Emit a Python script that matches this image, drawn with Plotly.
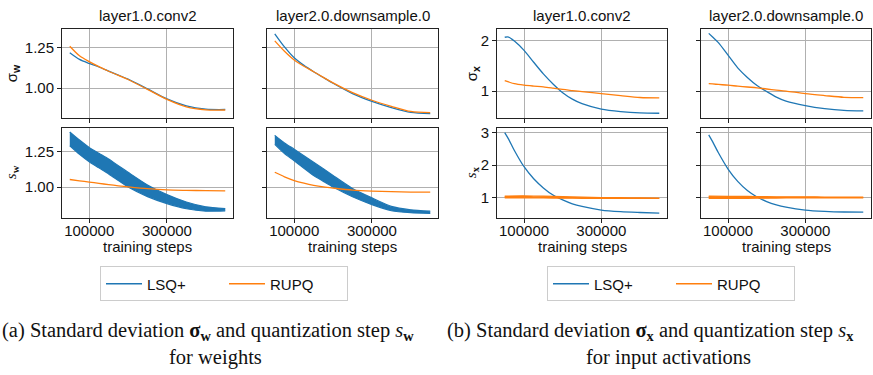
import plotly.graph_objects as go

W, H = 873, 375
BLUE = "#1f77b4"
ORANGE = "#ff7f0e"

# ---------------- data ----------------
steps_w = [50000, 75000, 100000, 125000, 150000, 175000, 200000, 250000, 300000, 350000, 400000, 450000]

# sigma_w, layer1.0.conv2
sigw_l1_lsq = [1.218, 1.177, 1.152, 1.130, 1.105, 1.080, 1.055, 0.995, 0.933, 0.890, 0.870, 0.868]
sigw_l1_rupq = [1.258, 1.199, 1.163, 1.132, 1.104, 1.079, 1.053, 0.992, 0.930, 0.884, 0.866, 0.865]
# sigma_w, layer2.0.downsample.0
sigw_l2_lsq = [1.335, 1.254, 1.187, 1.140, 1.101, 1.065, 1.030, 0.966, 0.918, 0.880, 0.850, 0.843]
sigw_l2_rupq = [1.291, 1.227, 1.173, 1.135, 1.101, 1.066, 1.032, 0.972, 0.925, 0.888, 0.856, 0.849]

# s_w, layer1.0.conv2 (LSQ+ is a noisy band: upper / lower envelope)
sw_l1_lsq_hi = [1.387, 1.330, 1.278, 1.237, 1.197, 1.150, 1.104, 1.015, 0.947, 0.895, 0.861, 0.849]
sw_l1_lsq_lo = [1.290, 1.230, 1.178, 1.135, 1.092, 1.046, 1.000, 0.933, 0.884, 0.848, 0.831, 0.833]
sw_l1_rupq = [1.053, 1.044, 1.035, 1.026, 1.017, 1.009, 1.002, 0.989, 0.980, 0.977, 0.975, 0.973]
# s_w, layer2.0.downsample.0
sw_l2_lsq_hi = [1.363, 1.310, 1.266, 1.220, 1.174, 1.128, 1.081, 0.990, 0.924, 0.864, 0.840, 0.831]
sw_l2_lsq_lo = [1.300, 1.235, 1.185, 1.132, 1.081, 1.040, 1.000, 0.932, 0.877, 0.834, 0.820, 0.815]
sw_l2_rupq = [1.104, 1.072, 1.046, 1.027, 1.012, 1.001, 0.993, 0.979, 0.972, 0.968, 0.965, 0.965]

steps_x = [50000, 60000, 75000, 100000, 125000, 150000, 175000, 200000, 225000, 250000, 300000, 350000, 400000, 450000]

# sigma_x, layer1.0.conv2
sigx_l1_lsq = [2.066, 2.070, 1.990, 1.806, 1.570, 1.340, 1.140, 0.967, 0.840, 0.750, 0.643, 0.593, 0.566, 0.560]
sigx_l1_rupq = [1.206, 1.180, 1.145, 1.116, 1.098, 1.083, 1.058, 1.031, 1.010, 0.990, 0.948, 0.908, 0.872, 0.864]
# sigma_x, layer2.0.downsample.0
sigx_l2_lsq = [2.143, 2.070, 1.960, 1.710, 1.460, 1.270, 1.110, 0.990, 0.880, 0.800, 0.710, 0.650, 0.615, 0.605]
sigx_l2_rupq = [1.147, 1.140, 1.130, 1.116, 1.097, 1.080, 1.063, 1.040, 1.020, 1.000, 0.948, 0.910, 0.876, 0.870]

# s_x, LSQ+
sx_l1_lsq = [3.000, 2.800, 2.450, 1.950, 1.580, 1.300, 1.080, 0.930, 0.810, 0.730, 0.620, 0.570, 0.545, 0.527]
sx_l2_lsq = [2.930, 2.720, 2.380, 1.880, 1.500, 1.220, 1.020, 0.880, 0.780, 0.710, 0.620, 0.580, 0.560, 0.556]

# s_x, RUPQ (noisy band: upper / lower envelope)
steps_band = [50000, 100000, 150000, 200000, 250000, 300000, 350000, 400000, 450000]
sx_l1_rupq_hi = [1.050, 1.055, 1.045, 1.030, 1.015, 1.005, 1.000, 0.995, 0.990]
sx_l1_rupq_lo = [0.990, 0.995, 0.990, 0.985, 0.980, 0.975, 0.975, 0.975, 0.975]
sx_l2_rupq_hi = [1.050, 1.040, 1.040, 1.030, 1.025, 1.025, 1.020, 1.020, 1.020]
sx_l2_rupq_lo = [0.980, 0.975, 0.980, 0.985, 0.990, 0.990, 0.990, 0.990, 0.990]

x_ticks = [100000, 300000]
x_ticklabels = ["100000", "300000"]
panel_titles = ["layer1.0.conv2", "layer2.0.downsample.0"]
series_names = ["LSQ+", "RUPQ"]

# ---------------- layout helpers ----------------
def px(x):
    return x / W

def py(y):
    return 1 - y / H

FONT = "Liberation Sans, Arial, sans-serif"
SERIF = "Liberation Serif, Times New Roman, serif"

# (axis idx, left, right, top, bottom, yrange, yticks, yticklabels, show x labels, show y labels)
panels = [
    (1, 62, 233, 25, 115, [0.817, 1.366], [1.0, 1.25], ["1.00", "1.25"], False, True),
    (2, 267, 438, 25, 115, [0.817, 1.366], [1.0, 1.25], ["1.00", "1.25"], False, False),
    (3, 62, 233, 125, 216, [0.785, 1.417], [1.0, 1.25], ["1.00", "1.25"], True, True),
    (4, 267, 438, 125, 216, [0.785, 1.417], [1.0, 1.25], ["1.00", "1.25"], True, False),
    (5, 497, 667, 25, 115, [0.47, 2.235], [1, 2], ["1", "2"], False, True),
    (6, 701, 871, 25, 115, [0.47, 2.235], [1, 2], ["1", "2"], False, False),
    (7, 497, 667, 125, 216, [0.385, 3.15], [1, 2, 3], ["1", "2", "3"], True, True),
    (8, 701, 871, 125, 216, [0.385, 3.15], [1, 2, 3], ["1", "2", "3"], True, False),
]

fig = go.Figure()
layout = dict(
    width=W, height=H, margin=dict(l=0, r=0, t=0, b=0),
    paper_bgcolor="white", plot_bgcolor="white",
    font=dict(family=FONT, size=15, color="#111"),
)

for (i, l, r, t, b, yr, yt, ytl, showx, showy) in panels:
    sfx = "" if i == 1 else str(i)
    layout["xaxis" + sfx] = dict(
        domain=[px(l), px(r)], anchor="y" + sfx, range=[30000, 470000],
        tickvals=x_ticks, ticktext=x_ticklabels, showticklabels=showx,
        ticks="outside", ticklen=4, tickwidth=1, tickcolor="#222",
        ticklabelstandoff=-5,
        showgrid=True, gridcolor="#b0b0b0", gridwidth=1,
        showline=True, linecolor="#222", linewidth=1, mirror=True,
        zeroline=False, tickfont=dict(size=15, family=FONT),
    )
    layout["yaxis" + sfx] = dict(
        domain=[py(b), py(t)], anchor="x" + sfx, range=yr,
        tickvals=yt, ticktext=ytl, showticklabels=showy,
        ticks="outside", ticklen=4, tickwidth=1, tickcolor="#222",
        showgrid=True, gridcolor="#b0b0b0", gridwidth=1,
        showline=True, linecolor="#222", linewidth=1, mirror=True,
        zeroline=False, tickfont=dict(size=15, family=FONT),
    )

def ax(i):
    return ("x" if i == 1 else "x%d" % i), ("y" if i == 1 else "y%d" % i)

def add_line(i, xs, ys, color, name=None, legend=None, show=False, width=1.3):
    xa, ya = ax(i)
    fig.add_trace(go.Scatter(
        x=xs, y=ys, mode="lines", line=dict(color=color, width=width, shape="spline", smoothing=0.8),
        xaxis=xa, yaxis=ya, name=name or "", showlegend=show,
        legend=legend or "legend", hoverinfo="skip",
    ))

def add_band(i, xs, lo, hi, color, legend="legend"):
    xa, ya = ax(i)
    fig.add_trace(go.Scatter(
        x=xs, y=lo, mode="lines", line=dict(color=color, width=1.2, shape="spline", smoothing=0.6),
        xaxis=xa, yaxis=ya, showlegend=False, hoverinfo="skip", legend=legend,
    ))
    fig.add_trace(go.Scatter(
        x=xs, y=hi, mode="lines", line=dict(color=color, width=1.2, shape="spline", smoothing=0.6),
        fill="tonexty", fillcolor=color,
        xaxis=xa, yaxis=ya, showlegend=False, hoverinfo="skip", legend=legend,
    ))

# weights group (legend)
add_line(1, steps_w, sigw_l1_lsq, BLUE, series_names[0], "legend", True)
add_line(1, steps_w, sigw_l1_rupq, ORANGE, series_names[1], "legend", True)
add_line(2, steps_w, sigw_l2_lsq, BLUE)
add_line(2, steps_w, sigw_l2_rupq, ORANGE)
add_band(3, steps_w, sw_l1_lsq_lo, sw_l1_lsq_hi, BLUE)
add_line(3, steps_w, sw_l1_rupq, ORANGE)
add_band(4, steps_w, sw_l2_lsq_lo, sw_l2_lsq_hi, BLUE)
add_line(4, steps_w, sw_l2_rupq, ORANGE)

# activations group (legend2)
add_line(5, steps_x, sigx_l1_lsq, BLUE, series_names[0], "legend2", True)
add_line(5, steps_x, sigx_l1_rupq, ORANGE, series_names[1], "legend2", True)
add_line(6, steps_x, sigx_l2_lsq, BLUE, legend="legend2")
add_line(6, steps_x, sigx_l2_rupq, ORANGE, legend="legend2")
add_line(7, steps_x, sx_l1_lsq, BLUE, legend="legend2")
add_band(7, steps_band, sx_l1_rupq_lo, sx_l1_rupq_hi, ORANGE, legend="legend2")
add_line(8, steps_x, sx_l2_lsq, BLUE, legend="legend2")
add_band(8, steps_band, sx_l2_rupq_lo, sx_l2_rupq_hi, ORANGE, legend="legend2")

legend_common = dict(
    orientation="h", xanchor="center", yanchor="middle", traceorder="normal",
    bgcolor="white", bordercolor="#cccccc", borderwidth=1,
    font=dict(family=FONT, size=15, color="#111"),
    entrywidth=72, entrywidthmode="pixels", itemwidth=36,
)
layout["legend"] = dict(legend_common, x=px(224), y=py(283))
layout["legend2"] = dict(legend_common, x=px(671), y=py(283))

ann = []
def text(x, y, s, size=15, family=FONT, angle=0, xanchor="center"):
    ann.append(dict(x=px(x), y=py(y), xref="paper", yref="paper", text=s, showarrow=False,
                    xanchor=xanchor, yanchor="middle", textangle=angle,
                    font=dict(size=size, family=family, color="#111")))

for cx in (147.5, 582):
    text(cx, 12, panel_titles[0])
for cx in (352.5, 786):
    text(cx, 12, panel_titles[1])
for cx in (147.5, 352.5, 582, 786):
    text(cx, 245, "training steps")

text(12, 70, "σ<sub><b>w</b></sub>", size=15, angle=-90)
text(12, 170, "<i>s</i><sub><b>w</b></sub>", size=15, family=SERIF, angle=-90)
text(472, 70, "σ<sub><b>x</b></sub>", size=15, angle=-90)
text(472, 170, "<i>s</i><sub><b>x</b></sub>", size=15, family=SERIF, angle=-90)

text(0, 331, "(a) Standard deviation <b>σ</b><sub><b>w</b></sub> and quantization step <i>s</i><sub><b>w</b></sub>",
     size=20.5, family=SERIF, xanchor="left")
text(215, 357, "for weights", size=20.5, family=SERIF)
text(445, 331, "(b) Standard deviation <b>σ</b><sub><b>x</b></sub> and quantization step <i>s</i><sub><b>x</b></sub>",
     size=20.5, family=SERIF, xanchor="left")
text(668, 357, "for input activations", size=20.5, family=SERIF)

layout["annotations"] = ann
fig.update_layout(**layout)
fig.write_html("out.html", post_script="document.body.style.margin='0px';",
               config={"displayModeBar": False})
